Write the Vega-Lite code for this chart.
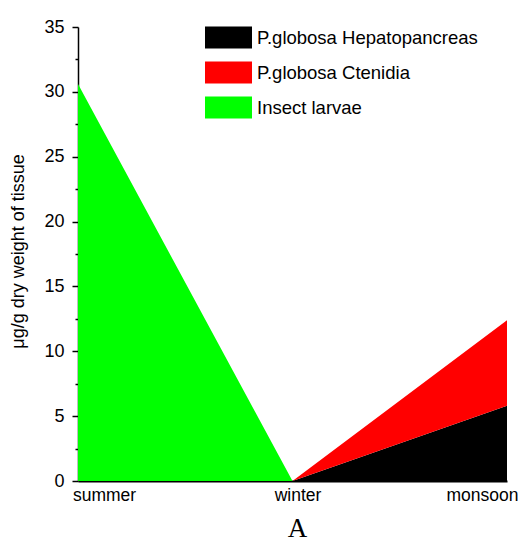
{
  "$schema": "https://vega.github.io/schema/vega-lite/v6.json",
  "width": 429,
  "height": 454,
  "autosize": {"type": "none"},
  "padding": {"left": 78, "top": 27, "right": 11, "bottom": 61},
  "background": "white",
  "title": {
    "text": "A",
    "orient": "bottom",
    "anchor": "middle",
    "font": "Liberation Serif",
    "fontSize": 27,
    "fontWeight": "normal",
    "color": "#000000",
    "offset": 12,
    "dx": 5
  },
  "data": {
    "values": [
      {"season": "summer", "tissue": "P.globosa Hepatopancreas", "value": 0},
      {"season": "winter", "tissue": "P.globosa Hepatopancreas", "value": 0},
      {"season": "monsoon", "tissue": "P.globosa Hepatopancreas", "value": 5.8},
      {"season": "summer", "tissue": "P.globosa Ctenidia", "value": 0},
      {"season": "winter", "tissue": "P.globosa Ctenidia", "value": 0},
      {"season": "monsoon", "tissue": "P.globosa Ctenidia", "value": 6.6},
      {"season": "summer", "tissue": "Insect larvae", "value": 30.6},
      {"season": "winter", "tissue": "Insect larvae", "value": 0},
      {"season": "monsoon", "tissue": "Insect larvae", "value": 0}
    ]
  },
  "transform": [
    {"calculate": "datum.tissue == 'P.globosa Hepatopancreas' ? 0 : datum.tissue == 'P.globosa Ctenidia' ? 1 : 2", "as": "rank"}
  ],
  "mark": {"type": "area", "interpolate": "linear", "strokeWidth": 0},
  "encoding": {
    "x": {
      "field": "season",
      "type": "ordinal",
      "sort": ["summer", "winter", "monsoon"],
      "scale": {"type": "point", "padding": 0},
      "axis": {
        "title": null,
        "labelAngle": 0,
        "ticks": false,
        "domainColor": "#000000",
        "domainWidth": 2,
        "labelFont": "Liberation Sans",
        "labelFontSize": 17.5,
        "labelColor": "#000000",
        "labelPadding": 5,
        "labelAlign": "center",
        "labelOffset": {"condition": [{"test": "datum.value == 'summer'", "value": 26}, {"test": "datum.value == 'winter'", "value": 5}], "value": -25},
        "grid": false
      }
    },
    "y": {
      "field": "value",
      "type": "quantitative",
      "stack": "zero",
      "scale": {"domain": [0, 35], "nice": false},
      "axis": {
        "title": "μg/g dry weight of tissue",
        "titleFont": "Liberation Sans",
        "titleFontSize": 18,
        "titleFontWeight": "normal",
        "titleColor": "#000000",
        "titleX": -60,
        "titleY": 224,
        "titleBaseline": "middle",
        "titleAngle": -90,
        "values": [0, 2.5, 5, 7.5, 10, 12.5, 15, 17.5, 20, 22.5, 25, 27.5, 30, 32.5, 35],
        "labelExpr": "datum.value % 5 == 0 ? datum.label : ''",
        "labelFont": "Liberation Sans",
        "labelFontSize": 18,
        "labelColor": "#000000",
        "labelPadding": 8,
        "tickColor": "#000000",
        "tickWidth": 1.5,
        "tickSize": {"condition": {"test": "datum.value % 5 == 0", "value": 6}, "value": 3},
        "domainColor": "#000000",
        "domainWidth": 1.5,
        "grid": false
      }
    },
    "color": {
      "field": "tissue",
      "type": "nominal",
      "scale": {
        "domain": ["P.globosa Hepatopancreas", "P.globosa Ctenidia", "Insect larvae"],
        "range": ["#000000", "#ff0000", "#00ff00"]
      },
      "legend": {
        "title": null,
        "orient": "none",
        "legendX": 127,
        "legendY": -13,
        "padding": 0,
        "symbolType": "M-1,-0.47H1V0.47H-1Z",
        "symbolSize": 2209,
        "symbolStrokeWidth": 0,
        "symbolOpacity": 1,
        "labelFont": "Liberation Sans",
        "labelFontSize": 18.5,
        "labelColor": "#000000",
        "labelOffset": 5,
        "labelLimit": 400,
        "rowPadding": -6
      }
    },
    "order": {"field": "rank", "type": "quantitative"}
  },
  "config": {"view": {"stroke": null}}
}
